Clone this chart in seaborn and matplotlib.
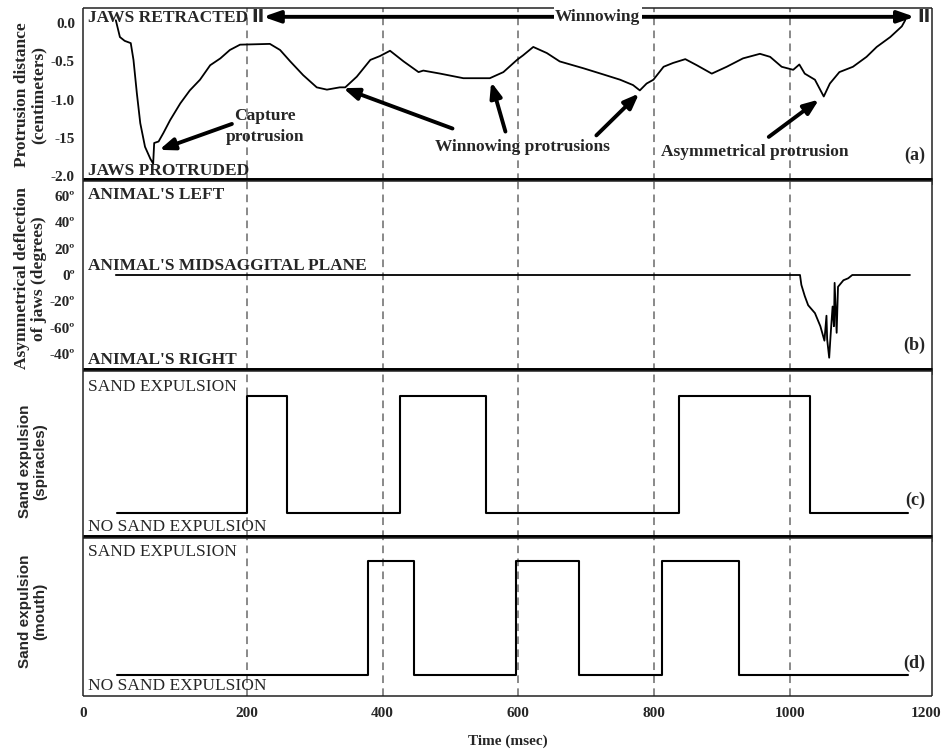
import matplotlib
matplotlib.use("Agg")
import matplotlib.pyplot as plt
import seaborn as sns

# (a) jaw protrusion distance, cm
prot_t = [7, 13, 20, 29, 33, 38, 43, 50, 58, 62, 63.5, 70, 77, 87, 102, 116, 131, 146,
          161, 175, 190, 234, 249, 264, 283, 303, 318, 337, 345, 362, 382, 396, 411,
          431, 453, 460, 485, 519, 558, 578, 598, 607, 622, 642, 661, 696, 725, 750,
          769, 779, 789, 799, 814, 828, 846, 863, 885, 907, 931, 956, 971, 988, 1005,
          1014, 1022, 1037, 1050, 1059, 1073, 1093, 1113, 1128, 1148, 1165, 1170]
prot_cm = [0.04, -0.18, -0.23, -0.26, -0.48, -0.92, -1.31, -1.62, -1.78, -1.84, -1.57,
           -1.55, -1.44, -1.27, -1.05, -0.88, -0.74, -0.55, -0.46, -0.35, -0.28, -0.27,
           -0.35, -0.50, -0.68, -0.84, -0.87, -0.84, -0.84, -0.70, -0.48, -0.43, -0.36,
           -0.50, -0.64, -0.62, -0.66, -0.72, -0.72, -0.64, -0.48, -0.42, -0.31, -0.39,
           -0.50, -0.59, -0.67, -0.74, -0.81, -0.88, -0.79, -0.74, -0.57, -0.52, -0.47,
           -0.55, -0.66, -0.57, -0.46, -0.40, -0.44, -0.57, -0.61, -0.54, -0.66, -0.74,
           -0.96, -0.79, -0.64, -0.57, -0.44, -0.31, -0.18, -0.04, 0.04]

# (b) asymmetrical deflection of jaws, degrees
defl_t = [7, 1015, 1017, 1022, 1027, 1037, 1045, 1051, 1054, 1055, 1058, 1060, 1063,
          1065, 1066, 1069, 1071, 1079, 1086, 1092, 1177]
defl_deg = [0, 0, -7.5, -16, -23, -29, -39, -50, -31, -49, -63, -46.5, -24, -39, -6,
            -44, -9, -4, -2.5, 0, 0]

# (c) sand expulsion through spiracles, (d) through mouth: on/off switch times
spir_t = [8, 200, 259, 426, 552, 837, 1029, 1174]
spir_on = [0, 1, 0, 1, 0, 1, 0, 0]
mouth_t = [8, 378, 447, 596, 689, 811, 925, 1174]
mouth_on = [0, 1, 0, 1, 0, 1, 0, 0]

guides = [200, 400, 600, 800, 1000]
x_left = -41
x_ticks = [x_left, 200, 400, 600, 800, 1000, 1200]
x_labels = ["0", "200", "400", "600", "800", "1000", "1200"]

a_ticks = [0, -0.5, -1.0, -1.5, -2.0]
a_labels = ["0.0", "-0.5", "-1.0", "-15", "-2.0"]
b_ticks = [60, 40, 20, 0, -20, -40, -60]
b_labels = ["60º", "40º", "20º", "0º", "-20º", "-60º", "-40º"]

sns.set_style("white")
plt.rcParams["font.family"] = ["Liberation Serif", "DejaVu Serif"]
plt.rcParams["font.weight"] = "bold"

fig = plt.figure(figsize=(9.45, 7.54), dpi=100)
gs = fig.add_gridspec(4, 1, height_ratios=[173, 190, 166.5, 158], hspace=0,
                      left=0.0881, right=0.9859, top=0.989, bottom=0.0769)
axes = [fig.add_subplot(gs[i]) for i in range(4)]
ax_a, ax_b, ax_c, ax_d = axes

lw_line = 1.3
sns.lineplot(x=prot_t, y=prot_cm, ax=ax_a, color="black", lw=lw_line, sort=False, estimator=None)
sns.lineplot(x=defl_t, y=defl_deg, ax=ax_b, color="black", lw=lw_line, sort=False, estimator=None)
sns.lineplot(x=spir_t, y=spir_on, ax=ax_c, color="black", lw=1.5, drawstyle="steps-post",
             sort=False, estimator=None)
sns.lineplot(x=mouth_t, y=mouth_on, ax=ax_d, color="black", lw=1.5, drawstyle="steps-post",
             sort=False, estimator=None)

ax_a.set_ylim(-2.073, 0.197)
ax_b.set_ylim(-73.4, 71.3)
ax_c.set_ylim(-0.21, 1.206)
ax_d.set_ylim(-0.181, 1.198)

for i, ax in enumerate(axes):
    ax.set_xlim(x_left, 1209)
    for g in guides:
        ax.axvline(g, color="#6a6a6a", lw=1.1, ls=(0, (5, 3.5)), zorder=0)
    for s in ax.spines.values():
        s.set_color("#222222")
        s.set_linewidth(1.1)
        s.set_visible(True)
        s.set_capstyle("butt")
    if i < 3:
        ax.spines["bottom"].set_linewidth(5)
        ax.spines["bottom"].set_color("black")
        ax.spines["bottom"].set_zorder(5)
        ax.set_xticks([])
    ax.tick_params(axis="y", direction="out", length=4, width=1, labelsize=11, pad=2)
    ax.set_xlabel("")

ax_d.set_xticks(x_ticks)
ax_d.set_xticklabels(x_labels, fontsize=11, fontweight="bold")
ax_d.tick_params(axis="x", length=0, pad=8)
ax_d.set_xlabel("Time (msec)", fontsize=11, fontweight="bold", labelpad=10)

ax_a.set_yticks(a_ticks)
ax_a.set_yticklabels(a_labels, fontweight="bold")
ax_b.set_yticks(b_ticks)
ax_b.set_yticklabels(b_labels, fontweight="bold")
ax_c.set_yticks([])
ax_d.set_yticks([])

ylab = dict(fontsize=12.5, fontweight="bold", linespacing=1.05)
ax_a.set_ylabel("Protrusion distance\n(centimeters)", **ylab)
ax_b.set_ylabel("Asymmetrical deflection\nof jaws (degrees)", **ylab)
ylab_s = dict(fontsize=11, fontweight="bold", family="Liberation Sans", linespacing=1.05)
ax_c.set_ylabel("Sand expulsion\n(spiracles)", **ylab_s)
ax_d.set_ylabel("Sand expulsion\n(mouth)", **ylab_s)
for ax, yc in zip(axes, [0.5, 0.49, 0.458, 0.534]):
    ax.yaxis.set_label_coords(-0.043, yc)

lab = dict(fontsize=12.5, fontweight="bold", va="center", ha="left")
ax_a.text(0.0055, 0.942, "JAWS RETRACTED", transform=ax_a.transAxes, **lab)
ax_a.text(0.0055, 0.061, "JAWS PROTRUDED", transform=ax_a.transAxes, **lab)
ax_b.text(0.0055, 0.928, "ANIMAL'S LEFT", transform=ax_b.transAxes, **lab)
ax_b.text(0.0055, 0.555, "ANIMAL'S MIDSAGGITAL PLANE", transform=ax_b.transAxes, **lab)
ax_b.text(0.0055, 0.06, "ANIMAL'S RIGHT", transform=ax_b.transAxes, **lab)
sand = dict(fontsize=12.5, fontweight="normal", va="center", ha="left")
ax_c.text(0.0055, 0.909, "SAND EXPULSION", transform=ax_c.transAxes, **sand)
ax_c.text(0.0055, 0.068, "NO SAND EXPULSION", transform=ax_c.transAxes, **sand)
ax_d.text(0.0055, 0.913, "SAND EXPULSION", transform=ax_d.transAxes, **sand)
ax_d.text(0.0055, 0.063, "NO SAND EXPULSION", transform=ax_d.transAxes, **sand)

panel = dict(fontsize=13, fontweight="bold", va="center", ha="right")
ax_a.text(0.992, 0.152, "(a)", transform=ax_a.transAxes, **panel)
ax_b.text(0.992, 0.139, "(b)", transform=ax_b.transAxes, **panel)
ax_c.text(0.992, 0.228, "(c)", transform=ax_c.transAxes, **panel)
ax_d.text(0.992, 0.207, "(d)", transform=ax_d.transAxes, **panel)

# winnowing phase bracket
arr_y = 0.085
ax_a.annotate("", xy=(224, arr_y), xytext=(1184, arr_y),
              arrowprops=dict(arrowstyle="<|-|>,head_length=1.0,head_width=0.35",
                              lw=2.8, color="black", shrinkA=0, shrinkB=0))
ax_a.text(717, arr_y, "Winnowing", fontsize=12.5, fontweight="bold", ha="center", va="center",
          bbox=dict(facecolor="white", edgecolor="none", pad=1))
for bx in [216, 1198]:
    ax_a.text(bx, arr_y, "II", fontsize=13, fontweight="bold", family="DejaVu Sans",
              ha="center", va="center")

arrow = dict(arrowstyle="-|>,head_length=0.9,head_width=0.35", lw=2.8, color="black",
             shrinkA=0, shrinkB=0)
note = dict(fontsize=12.5, fontweight="bold", ha="center", va="center", linespacing=1.4)
ax_a.text(227, -1.35, "Capture\nprotrusion", **note)
ax_a.annotate("", xy=(71, -1.66), xytext=(178, -1.32), arrowprops=arrow)
ax_a.text(606, -1.62, "Winnowing protrusions", **note)
ax_a.annotate("", xy=(342, -0.85), xytext=(503, -1.38), arrowprops=arrow)
ax_a.annotate("", xy=(560, -0.77), xytext=(581, -1.42), arrowprops=arrow)
ax_a.annotate("", xy=(778, -0.92), xytext=(715, -1.47), arrowprops=arrow)
ax_a.text(948, -1.685, "Asymmetrical protrusion", **note)
ax_a.annotate("", xy=(1043, -1.0), xytext=(969, -1.49), arrowprops=arrow)

fig.savefig("out.png", dpi=100)
